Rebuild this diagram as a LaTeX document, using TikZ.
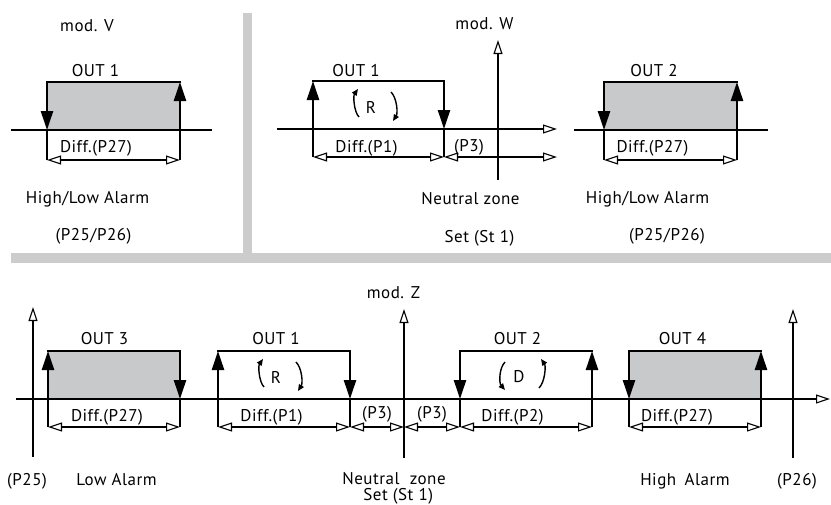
\documentclass[tikz,border=0pt]{standalone}
\usepackage{fontspec}
\setmainfont{PT Sans}
\newfontfamily\lblfont[LetterSpace=3]{PT Sans}
\usetikzlibrary{arrows.meta}
\definecolor{boxgray}{RGB}{200,201,203}
\definecolor{bargray}{RGB}{204,204,204}
\newcommand\defbox[5]{%
  \coordinate (#1tl) at (#2,#4); \coordinate (#1tr) at (#3,#4);
  \coordinate (#1bl) at (#2,#5); \coordinate (#1br) at (#3,#5);}
\newcommand\boxdownup[1]{%
  \draw[thk,boxarrow] (#1tr) -- (#1tl) -- (#1bl);
  \draw[thk,boxarrow] (#1br) -- (#1tr);
  \draw[thk] (#1bl) -- (#1br);}
\newcommand\boxupdown[1]{%
  \draw[thk,boxarrow] (#1tl) -- (#1tr) -- (#1br);
  \draw[thk,boxarrow] (#1bl) -- (#1tl);
  \draw[thk] (#1bl) -- (#1br);}
\newcommand\ticks[1]{%
  \draw[thn] (#1bl) -- (#1dl); \draw[thn] (#1br) -- (#1dr);}
\tikzset{
  lbl/.style={font=\lblfont\fontsize{17}{15.5}\selectfont, anchor=base, inner sep=0pt},
  thn/.style={line width=1.1pt},
  thk/.style={line width=2.5pt, line cap=rect},
  arcln/.style={line width=1.4pt, -{Triangle[length=6.5pt,width=5.5pt]}},
  boxarrow/.style={-{Triangle[length=19pt,width=12pt]}},
  openarrow/.style={thn, -{Triangle[open,fill=white,length=14pt,width=9pt]}},
  dimarrow/.style={thn, {Triangle[open,fill=white,length=14pt,width=9pt]}-{Triangle[open,fill=white,length=14pt,width=9pt]}},
  grayfill/.style={fill=boxgray, draw=none},
  bar/.style={fill=bargray, draw=none}
}
\begin{document}
\begin{tikzpicture}[x=1pt,y=-1pt]
\useasboundingbox (0,0) rectangle (831,504);
% separator bars
\fill[bar] (243,13) rectangle (252,254);
\fill[bar] (11,253) rectangle (831,263);

%%%%%%%% mod. V
\defbox{v}{47}{180}{82}{130}
\coordinate (va0) at (11,130); \coordinate (va1) at (212,130);
\coordinate (vdl) at (47,160); \coordinate (vdr) at (180,160);
\fill[grayfill] (vtl) rectangle (vbr);
\draw[thn] (va0) -- (va1);
\ticks{v}
\draw[dimarrow] (vdl) -- (vdr);
\boxdownup{v}
\node[lbl] (vtitle) at (87,31) {mod. V};
\node[lbl] (vout) at (95.5,76) {OUT 1};
\node[lbl] (vdiff) at (96,152) {Diff.(P27)};
\node[lbl] (valarm) at (87.5,203) {High/Low Alarm};
\node[lbl] (vpar) at (93.5,240) {(P25/P26)};

%%%%%%%% mod. W
\defbox{w}{313}{444}{81}{129}
\coordinate (wa0) at (277,129); \coordinate (wa1) at (557,129);
\coordinate (wy0) at (498,180); \coordinate (wy1) at (498,40);
\coordinate (wdl) at (313,157); \coordinate (wdr) at (444,157);
\coordinate (wp3) at (557,157);
\draw[openarrow] (wa0) -- (wa1);
\draw[openarrow] (wy0) -- (wy1);
\ticks{w}
\draw[dimarrow] (wdl) -- (wdr);
\draw[dimarrow] (wdr) -- (wp3);
\boxupdown{w}
\draw[arcln] (359,117) .. controls (354,112) and (353,96) .. (358,89);
\draw[arcln] (391,92) .. controls (397,98) and (398,113) .. (393,121);
\node[lbl] (wtitle) at (484.5,29) {mod. W};
\node[lbl] (wout) at (356,76) {OUT 1};
\node[lbl] (wr) at (371,113) {R};
\node[lbl] (wdiff) at (366.5,152) {Diff.(P1)};
\node[lbl] (wp3l) at (469,151) {(P3)};
\node[lbl] (wnz) at (470.5,204) {Neutral zone};
\node[lbl] (wset) at (479.5,242) {Set (St 1)};

%%%%%%%% right top
\defbox{u}{604}{737}{82}{130}
\coordinate (ua0) at (574,130); \coordinate (ua1) at (768,130);
\coordinate (udl) at (604,160); \coordinate (udr) at (737,160);
\fill[grayfill] (utl) rectangle (ubr);
\draw[thn] (ua0) -- (ua1);
\ticks{u}
\draw[dimarrow] (udl) -- (udr);
\boxdownup{u}
\node[lbl] (uout) at (654,76) {OUT 2};
\node[lbl] (udiff) at (652.5,152) {Diff.(P27)};
\node[lbl] (ualarm) at (647.5,203) {High/Low Alarm};
\node[lbl] (upar) at (667,240) {(P25/P26)};

%%%%%%%% mod. Z
\coordinate (za0) at (16,399); \coordinate (za1) at (830,399);
\coordinate (zl0) at (33,457); \coordinate (zl1) at (33,307);
\coordinate (zc0) at (404,458); \coordinate (zc1) at (404,309);
\coordinate (zr0) at (793,458); \coordinate (zr1) at (793,309);
\defbox{a}{48}{180}{351}{399}
\defbox{b}{218}{350}{351}{399}
\defbox{c}{460}{592}{351}{399}
\defbox{d}{629}{761}{351}{399}
\coordinate (adl) at (48,427); \coordinate (adr) at (180,427);
\coordinate (bdl) at (218,427); \coordinate (bdr) at (350,427);
\coordinate (zmid) at (404,427);
\coordinate (cdl) at (460,427); \coordinate (cdr) at (592,427);
\coordinate (ddl) at (629,427); \coordinate (ddr) at (761,427);
\fill[grayfill] (atl) rectangle (abr);
\fill[grayfill] (dtl) rectangle (dbr);
\draw[openarrow] (za0) -- (za1);
\draw[openarrow] (zl0) -- (zl1);
\draw[openarrow] (zc0) -- (zc1);
\draw[openarrow] (zr0) -- (zr1);
\ticks{a}\ticks{b}\ticks{c}\ticks{d}
\draw[dimarrow] (adl) -- (adr);
\draw[dimarrow] (bdl) -- (bdr);
\draw[dimarrow] (bdr) -- (zmid);
\draw[dimarrow] (zmid) -- (cdl);
\draw[dimarrow] (cdl) -- (cdr);
\draw[dimarrow] (ddl) -- (ddr);
\boxupdown{a}
\boxupdown{b}
\boxdownup{c}
\boxdownup{d}
\draw[arcln] (264,387) .. controls (259,382) and (258,366) .. (263,359);
\draw[arcln] (296,362) .. controls (302,368) and (303,383) .. (298,391);
\draw[arcln] (505,362) .. controls (499,368) and (499,383) .. (505,390);
\draw[arcln] (539,388) .. controls (545,382) and (546,366) .. (541,359);
\node[lbl] (ztitle) at (393.5,298) {mod. Z};
\node[lbl] (aout) at (104.5,344) {OUT 3};
\node[lbl] (bout) at (276,344) {OUT 1};
\node[lbl] (cout) at (517.5,344) {OUT 2};
\node[lbl] (dout) at (682.5,344) {OUT 4};
\node[lbl] (brl) at (276,383) {R};
\node[lbl] (cdl2) at (519,382) {D};
\node[lbl] (adiff) at (107,421) {Diff.(P27)};
\node[lbl] (bdiff) at (271.5,421) {Diff.(P1)};
\node[lbl] (p3a) at (377,418) {(P3)};
\node[lbl] (p3b) at (432,418) {(P3)};
\node[lbl] (cdiff) at (512.5,421) {Diff.(P2)};
\node[lbl] (ddiff) at (677,421) {Diff.(P27)};
\node[lbl] (p25) at (27,485) {(P25)};
\node[lbl] (low) at (116.5,485) {Low Alarm};
\node[lbl, align=center] (znz) at (394,500) {Neutral\hspace{0.6em}zone\\ \hspace*{0.5em}Set (St 1)};
\node[lbl] (high) at (685,485) {High\hspace{0.5em}Alarm};
\node[lbl] (p26) at (797,485) {(P26)};
\end{tikzpicture}
\end{document}
